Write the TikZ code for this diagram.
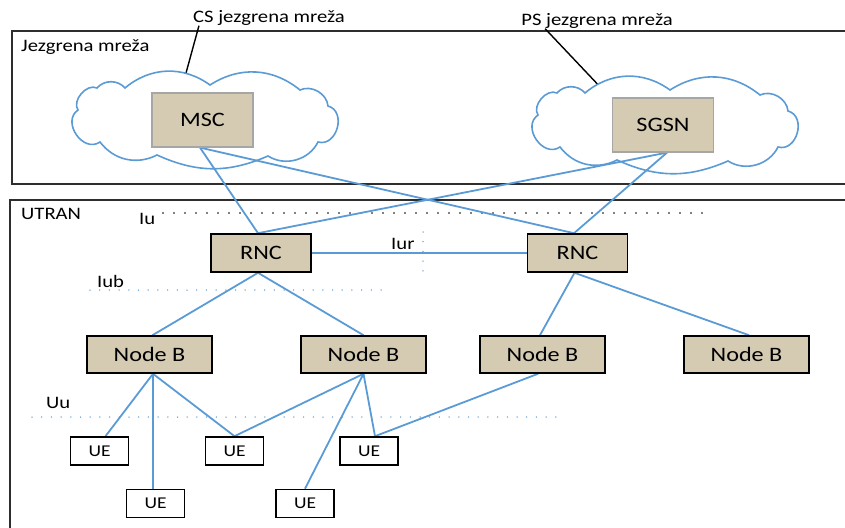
\documentclass[tikz,border=0pt]{standalone}
\usepackage{fontspec}
\setmainfont{Carlito}
\newfontfamily\wf[FakeStretch=1.18]{Carlito}
\definecolor{lblue}{HTML}{5B9BD5}
\definecolor{boxtan}{HTML}{D5CAB2}
\definecolor{frameg}{HTML}{2E2E2E}
\begin{document}
\begin{tikzpicture}[x=1pt,y=-1pt,
  frame/.style={draw=frameg,line width=2pt},
  cloudline/.style={draw=lblue,line width=1.6pt,fill=white},
  corebox/.style={draw=gray!70,line width=1.2pt,fill=boxtan,minimum width=101pt,minimum height=54pt,inner sep=0pt,font=\wf\fontsize{20.5}{24}\selectfont},
  rnbox/.style={draw=black,line width=1.6pt,fill=boxtan,minimum width=100pt,minimum height=38pt,inner sep=0pt,font=\wf\fontsize{20.5}{24}\selectfont},
  nbbox/.style={draw=black,line width=1.6pt,fill=boxtan,minimum width=125pt,minimum height=37pt,inner sep=0pt,font=\wf\fontsize{20.5}{24}\selectfont},
  uebox/.style={draw=black,line width=1.6pt,fill=white,minimum width=58pt,minimum height=28pt,inner sep=0pt,font=\wf\fontsize{16.5}{19}\selectfont},
  lbl/.style={inner sep=0pt,font=\wf\fontsize{17.5}{20}\selectfont},
  link/.style={draw=lblue,line width=1.8pt},
  bdots/.style={draw=lblue,line width=1.5pt,line cap=round,dash pattern=on 0pt off 9.7pt},
  kdots/.style={draw=black,line width=1.9pt,line cap=round,dash pattern=on 0pt off 11pt},
  callout/.style={draw=black,line width=1.4pt},
  officecloud/.pic={
    \path[cloudline] (78,110) to[bend left=75] (97,88) to[bend left=50] (125,88)
      to[bend left=38] (210,85) to[bend left=36] (300,90) to[bend left=55] (328,106)
      to[bend left=90,looseness=1.35] (318,142) to[bend left=48] (268,156)
      to[bend left=24] (157,155) to[bend left=40] (100,142)
      to[bend left=90,looseness=1.35] (78,110) -- cycle;
  }]
\useasboundingbox (0,0) rectangle (845,527);
\begin{scope}
\clip (0,0) rectangle (845,527);
\draw[frame] (12,31) rectangle (870,184);
\draw[frame] (10,200) rectangle (870,560);
\end{scope}

% labels
\node[lbl,anchor=west] (jm) at (21,47) {Jezgrena mreža};
\node[lbl] (cs) at (269,18) {CS jezgrena mreža};
\node[lbl] (ps) at (597,21) {PS jezgrena mreža};
\node[lbl,anchor=west] (utran) at (21,214) {UTRAN};
\node[lbl,anchor=west] (iu) at (139,219) {Iu};
\node[lbl,anchor=west] (iur) at (391,244) {Iur};
\node[lbl,anchor=west] (iub) at (97,281) {Iub};
\node[lbl,anchor=west] (uu) at (46,403) {Uu};

% callouts (ends hidden under the clouds)
\coordinate (cl1top) at (183,84);
\coordinate (cl2top) at (604,91);
\draw[callout] ([xshift=6pt]cs.south west) -- (cl1top);
\draw[callout] ([xshift=24pt]ps.south west) -- (cl2top);

% clouds
\pic at (0,0) {officecloud};
\pic at (460,5) {officecloud};

% dotted interfaces
\coordinate (iua) at (163,213);
\coordinate (iub2) at (712,213);
\draw[kdots] (iua) -- (iub2);
\coordinate (iura) at (423,232);
\coordinate (iurb) at (423,277);
\draw[bdots] (iura) -- (iurb);
\coordinate (iuba) at (90,290);
\coordinate (iubb) at (385,290);
\draw[bdots] (iuba) -- (iubb);
\coordinate (uua) at (32,417);
\coordinate (uub) at (563,417);
\draw[bdots] (uua) -- (uub);

% node anchors (invisible), boxes drawn after the links
\path node[corebox,draw=none,fill=none,text opacity=0] (msc) at (202.5,120) {MSC}
      node[corebox,draw=none,fill=none,text opacity=0] (sgsn) at (663,125) {SGSN}
      node[rnbox,draw=none,fill=none,text opacity=0] (rnc1) at (261,253) {RNC}
      node[rnbox,draw=none,fill=none,text opacity=0] (rnc2) at (577.5,253) {RNC}
      node[nbbox,draw=none,fill=none,text opacity=0] (nb1) at (149.5,354.5) {Node B}
      node[nbbox,draw=none,fill=none,text opacity=0] (nb2) at (363.5,354.5) {Node B}
      node[nbbox,draw=none,fill=none,text opacity=0] (nb3) at (542.5,354.5) {Node B}
      node[nbbox,draw=none,fill=none,text opacity=0] (nb4) at (746.5,354.5) {Node B}
      node[uebox,draw=none,fill=none,text opacity=0] (ue1) at (99.5,451) {UE}
      node[uebox,draw=none,fill=none,text opacity=0] (ue2) at (234.5,451) {UE}
      node[uebox,draw=none,fill=none,text opacity=0] (ue3) at (369,451) {UE}
      node[uebox,draw=none,fill=none,text opacity=0] (ue4) at (155.5,503.5) {UE}
      node[uebox,draw=none,fill=none,text opacity=0] (ue5) at (305,503.5) {UE};

% connectors
\draw[link] ([xshift=-2.5pt]msc.south) -- ([xshift=-3pt]rnc1.north);
\draw[link] ([xshift=-2.5pt]msc.south) -- ([xshift=-3.5pt]rnc2.north);
\draw[link] ([xshift=4pt]sgsn.south) -- ([xshift=-3pt]rnc1.north);
\draw[link] ([xshift=4pt]sgsn.south) -- ([xshift=-3.5pt]rnc2.north);
\draw[link] (rnc1.east) -- (rnc2.west);
\draw[link] ([xshift=-3pt]rnc1.south) -- ([xshift=3pt]nb1.north);
\draw[link] ([xshift=-3pt]rnc1.south) -- (nb2.north);
\draw[link] ([xshift=-3pt]rnc2.south) -- ([xshift=-2.5pt]nb3.north);
\draw[link] ([xshift=-3pt]rnc2.south) -- ([xshift=2.5pt]nb4.north);
\draw[link] ([xshift=3.5pt]nb1.south) -- ([xshift=6pt]ue1.north);
\draw[link] ([xshift=3.5pt]nb1.south) -- ([xshift=-2.5pt]ue4.north);
\draw[link] ([xshift=3.5pt]nb1.south) -- (ue2.north);
\draw[link] (nb2.south) -- (ue2.north);
\draw[link] (nb2.south) -- (ue5.north);
\draw[link] (nb2.south) -- ([xshift=6pt]ue3.north);
\draw[link] ([xshift=-4.5pt]nb3.south) -- ([xshift=6pt]ue3.north);

% visible boxes over line ends
\node[corebox] at (msc) {MSC};
\node[corebox] at (sgsn) {SGSN};
\node[rnbox] at (rnc1) {RNC};
\node[rnbox] at (rnc2) {RNC};
\node[nbbox] at (nb1) {Node B};
\node[nbbox] at (nb2) {Node B};
\node[nbbox] at (nb3) {Node B};
\node[nbbox] at (nb4) {Node B};
\node[uebox] at (ue1) {UE};
\node[uebox] at (ue2) {UE};
\node[uebox] at (ue3) {UE};
\node[uebox] at (ue4) {UE};
\node[uebox] at (ue5) {UE};
\end{tikzpicture}
\end{document}
